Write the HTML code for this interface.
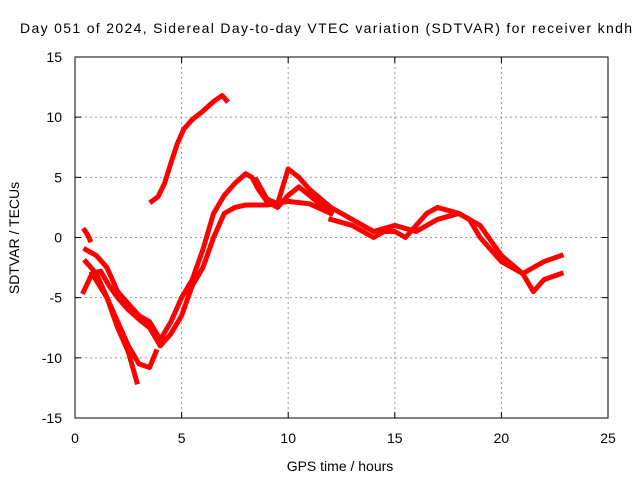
<!DOCTYPE html>
<html><head><meta charset="utf-8"><style>
body{margin:0;background:#fff}
text{font-family:"Liberation Sans",sans-serif;font-size:14px;fill:#000}
</style></head><body>
<svg width="640" height="480">
<rect width="640" height="480" fill="#fff"/>
<g id="grid"></g>
<g id="series" fill="none" stroke="#ff0000" stroke-width="5" stroke-linejoin="round" stroke-linecap="square"></g>
<rect x="75" y="57" width="533" height="361" fill="none" stroke="#000" stroke-width="1"/>
<g id="ticks"></g>
<text x="326" y="33" text-anchor="middle" textLength="612">Day 051 of 2024, Sidereal Day-to-day VTEC variation (SDTVAR) for receiver kndh</text>
<text x="340" y="471" text-anchor="middle">GPS time / hours</text>
<text transform="translate(19,238) rotate(-90)" text-anchor="middle">SDTVAR / TECUs</text>
</svg>
<script>
const xTicks=[0,5,10,15,20,25];
const yTicks=[-15,-10,-5,0,5,10,15];
const traceA=[[3.6,3],[3.9,3.4],[4.2,4.5],[4.5,6.2],[4.8,7.8],[5.1,9],[5.5,9.8],[6,10.5],[6.5,11.3],[6.9,11.8],[7.1,11.4]];
const traceB=[[0.45,0.6],[0.6,0.2],[0.7,-0.2]];
const trace1=[[0.4,-4.5],[0.8,-3],[1.2,-2.8],[1.6,-4],[2,-5],[2.5,-6],[3,-6.8],[3.5,-7.5],[4,-9],[4.5,-8],[5,-6.5],[5.5,-4],[6,-2.5],[6.5,0],[7,2],[7.5,2.5],[8,2.7],[9,2.7],[10,3],[11,2.8],[12,2]];
const trace2=[[0.5,-1],[1,-1.5],[1.5,-2.5],[2,-4.5],[2.5,-5.5],[3,-6.5],[3.5,-7],[4,-8.5],[4.5,-7],[5,-5],[5.5,-3.5],[6,-1],[6.5,2],[7,3.5],[7.5,4.5],[8,5.3],[8.3,5],[8.6,4],[9,3],[9.5,2.5],[10,3.5],[10.5,4.2],[11,3.5],[12,2]];
const trace3=[[0.5,-2],[1,-3],[1.5,-5],[2,-7.5],[2.5,-9.5],[2.9,-12]];
const trace4=[[0.8,-3],[1.5,-5],[2,-7],[2.5,-9],[3,-10.5],[3.5,-10.8],[3.8,-9.5]];
const trace5=[[8.5,4.8],[9,3.2],[9.5,2.8],[10,5.7],[10.5,5],[11,4],[12,2.5],[13,1.5],[14,0.5],[15,1],[16,0.5],[17,1.5],[18,2],[19,1],[20,-1.5],[21,-3],[21.5,-4.5],[22,-3.5],[22.8,-3]];
const trace6=[[12,1.5],[13,1],[14,0],[14.5,0.5],[15,0.5],[15.5,0],[16,1],[16.5,2],[17,2.5],[18,2],[18.5,1.5],[19,0],[19.5,-1],[20,-2],[20.5,-2.5],[21,-3],[21.5,-2.5],[22,-2],[22.8,-1.5]];
const traces=[traceA,traceB,trace1,trace2,trace3,trace4,trace5,trace6];
const X=v=>75+v*533/25, Y=v=>237.5-v*361/30;
const NS="http://www.w3.org/2000/svg";
const grid=document.getElementById('grid'),ticks=document.getElementById('ticks'),ser=document.getElementById('series');
function mk(tag,attrs,parent){const e=document.createElementNS(NS,tag);for(const k in attrs)e.setAttribute(k,attrs[k]);parent.appendChild(e);return e;}
xTicks.forEach(t=>{const x=X(t);
 if(t>0&&t<25){const g=mk('line',{x1:x,x2:x,y1:57,y2:418,stroke:'#999','stroke-dasharray':'2,3'},grid);
 
 }
 mk('line',{x1:x,x2:x,y1:418,y2:412,stroke:'#000'},ticks);mk('line',{x1:x,x2:x,y1:57,y2:63,stroke:'#000'},ticks);
 const l=mk('text',{x:x,y:443,'text-anchor':'middle'},ticks);l.textContent=t;
 
 });
yTicks.forEach(t=>{const y=Y(t);
 if(t>-15&&t<15){const g=mk('line',{x1:75,x2:608,y1:y,y2:y,stroke:'#999','stroke-dasharray':'2,3'},grid);
 
 }
 mk('line',{x1:75,x2:81,y1:y,y2:y,stroke:'#000'},ticks);mk('line',{x1:608,x2:602,y1:y,y2:y,stroke:'#000'},ticks);
 const l=mk('text',{x:62,y:y+5,'text-anchor':'end'},ticks);l.textContent=t;
 
 });
traces.forEach((tr,i)=>{const p=mk('polyline',{points:tr.map(d=>X(d[0])+','+Y(d[1])).join(' ')},ser);
 
 });
</script>
</body></html>
